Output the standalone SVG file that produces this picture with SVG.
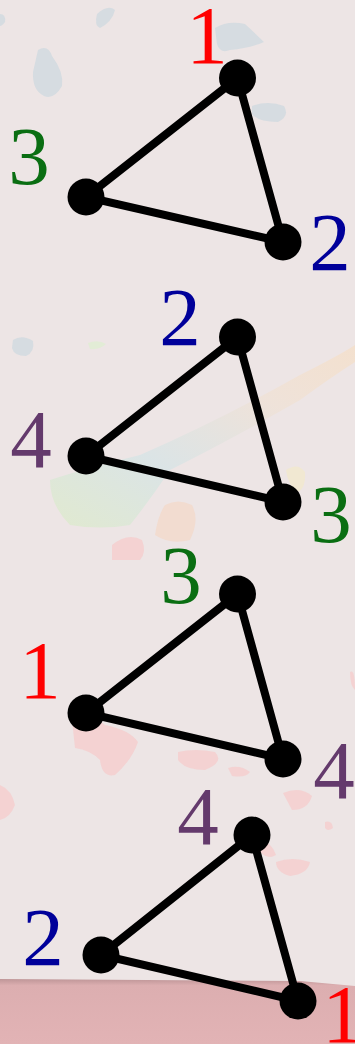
<svg xmlns="http://www.w3.org/2000/svg" width="355" height="1044" viewBox="0 0 355 1044">
<defs>
<style>
.e{stroke:#000;stroke-width:8;stroke-linecap:round;fill:none}
.n{fill:#000}
.t{font-family:"Liberation Serif","DejaVu Serif",serif;font-size:83px;text-anchor:middle}
.c1{fill:#ff0000}.c2{fill:#00009a}.c3{fill:#0a6e12}.c4{fill:#643a6c}
.bb{fill:#cfdae0;opacity:.8}
.pk{fill:#f5cfcf;opacity:.85}
</style>
<linearGradient id="strip" x1="0" y1="0" x2="0" y2="1">
<stop offset="0" stop-color="#bf9698"/>
<stop offset="0.1" stop-color="#dcaeb0"/>
<stop offset="1" stop-color="#e2b3b5"/>
</linearGradient>
<linearGradient id="streak" x1="0" y1="1" x2="1" y2="0">
<stop offset="0" stop-color="#dfeacd"/>
<stop offset="0.35" stop-color="#d9e4e6"/>
<stop offset="0.7" stop-color="#efe2d8"/>
<stop offset="1" stop-color="#f4e0cc"/>
</linearGradient>
</defs>
<g id="background">
<rect x="0" y="0" width="355" height="1044" fill="#ede5e5"/>
<path class="bb" d="M215,28 Q228,20 245,24 Q258,36 264,42 Q250,48 230,50 Q220,54 217,44 Z"/>
<path class="bb" d="M38,50 Q48,44 52,56 Q64,72 62,86 Q54,100 44,96 Q32,90 33,72 Z"/>
<path class="bb" d="M97,14 Q108,4 115,10 Q112,22 100,28 Q94,26 97,14 Z"/>
<path class="bb" d="M252,106 Q268,100 284,106 Q290,116 278,122 Q258,122 252,114 Z"/>
<path class="bb" d="M0,14 Q6,14 5,22 Q2,26 0,26 Z"/>
<path class="bb" d="M13,340 Q22,334 33,341 Q35,352 26,356 Q14,356 12,348 Z"/>
<path d="M88,343 Q98,339 106,344 Q100,350 90,349 Z" fill="#e2ecd6"/>
<path d="M50,480 Q80,470 140,455 Q220,420 300,375 Q340,355 355,345 L355,362 Q330,378 300,400 Q230,440 170,470 Q150,500 130,525 Q100,530 70,525 Q50,505 50,480 Z" fill="url(#streak)" opacity=".9"/>
<path d="M286,470 Q298,462 305,472 Q306,488 298,492 Q288,486 286,470 Z" fill="#f1e8d2"/>
<path d="M165,505 Q178,498 192,505 Q200,520 190,540 Q170,545 155,535 Q158,515 165,505 Z" fill="#f2dcd0"/>
<path class="pk" d="M112,545 Q128,532 142,540 Q147,552 140,560 L112,560 Z"/>
<path class="pk" d="M72,720 Q95,715 105,725 Q130,730 138,742 Q132,760 115,775 Q102,778 100,760 Q90,750 75,748 Z"/>
<path class="pk" d="M178,752 Q195,748 215,752 Q225,762 205,770 Q185,770 178,760 Z"/>
<path class="pk" d="M228,768 Q240,764 250,772 Q246,778 232,776 Z"/>
<path class="pk" d="M350,672 Q355,668 355,690 Q350,686 350,672 Z"/>
<path class="pk" d="M0,785 Q12,790 15,805 Q10,818 0,820 Z"/>
<path class="pk" d="M325,822 Q332,820 333,828 Q328,832 325,828 Z"/>
<path class="pk" d="M283,793 Q300,786 312,796 Q308,810 292,810 Z"/>
<path class="pk" d="M258,838 Q272,842 276,855 Q268,860 260,852 Z"/>
<path class="pk" d="M276,862 Q292,856 310,862 Q308,874 290,876 Q276,872 276,862 Z"/>
<path d="M0,979 L300,981 L355,986 L355,1044 L0,1044 Z" fill="url(#strip)"/>
</g>
<g id="connectors">
<path class="e" d="M237.5,78 L86,197 L283,242 Z"/>
<path class="e" d="M237.5,337 L86,456 L283,502 Z"/>
<path class="e" d="M237.5,594 L86,713 L283,759 Z"/>
<path class="e" d="M252,835 L101,955 L298,1001 Z"/>
</g>
<g id="t1">
<circle class="n" cx="237.5" cy="78" r="18.5"/><circle class="n" cx="86" cy="197" r="18.5"/><circle class="n" cx="283" cy="242" r="18.5"/>
<text class="t c1" x="207" y="63">1</text><text class="t c3" x="29" y="184">3</text><text class="t c2" x="330" y="270">2</text>
</g>
<g id="t2">
<circle class="n" cx="237.5" cy="337" r="18.5"/><circle class="n" cx="86" cy="456" r="18.5"/><circle class="n" cx="283" cy="502" r="18.5"/>
<text class="t c2" x="180" y="345">2</text><text class="t c4" x="31" y="467">4</text><text class="t c3" x="331" y="542">3</text>
</g>
<g id="t3">
<circle class="n" cx="237.5" cy="594" r="18.5"/><circle class="n" cx="86" cy="713" r="18.5"/><circle class="n" cx="283" cy="759" r="18.5"/>
<text class="t c3" x="181" y="603">3</text><text class="t c1" x="40" y="698">1</text><text class="t c4" x="334" y="798">4</text>
</g>
<g id="t4">
<circle class="n" cx="252" cy="835" r="18.5"/><circle class="n" cx="101" cy="955" r="18.5"/><circle class="n" cx="298" cy="1001" r="18.5"/>
<text class="t c4" x="198" y="844">4</text><text class="t c2" x="43" y="965">2</text><text class="t c1" x="343" y="1042">1</text>
</g>
</svg>
